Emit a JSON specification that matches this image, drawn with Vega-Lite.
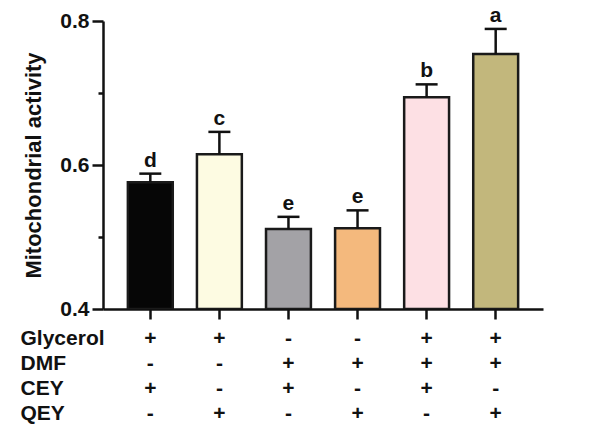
{
  "$schema": "https://vega.github.io/schema/vega-lite/v6.json",
  "background": "white",
  "padding": {"left": 20, "top": 4, "right": 10, "bottom": 10},
  "config": {
    "font": "Liberation Sans",
    "view": {"stroke": null},
    "concat": {"spacing": 0}
  },
  "data": {
    "values": [
      {"group": "Gly+CEY", "value": 0.576, "err": 0.588, "letter": "d", "Glycerol": "+", "DMF": "-", "CEY": "+", "QEY": "-"},
      {"group": "Gly+QEY", "value": 0.615, "err": 0.646, "letter": "c", "Glycerol": "+", "DMF": "-", "CEY": "-", "QEY": "+"},
      {"group": "DMF+CEY", "value": 0.511, "err": 0.528, "letter": "e", "Glycerol": "-", "DMF": "+", "CEY": "+", "QEY": "-"},
      {"group": "DMF+QEY", "value": 0.512, "err": 0.537, "letter": "e", "Glycerol": "-", "DMF": "+", "CEY": "-", "QEY": "+"},
      {"group": "Gly+DMF+CEY", "value": 0.694, "err": 0.712, "letter": "b", "Glycerol": "+", "DMF": "+", "CEY": "+", "QEY": "-"},
      {"group": "Gly+DMF+QEY", "value": 0.754, "err": 0.789, "letter": "a", "Glycerol": "+", "DMF": "+", "CEY": "-", "QEY": "+"}
    ]
  },
  "vconcat": [
    {
      "width": 440,
      "height": 288,
      "encoding": {
        "x": {
          "field": "group",
          "type": "nominal",
          "sort": ["Gly+CEY", "Gly+QEY", "DMF+CEY", "DMF+QEY", "Gly+DMF+CEY", "Gly+DMF+QEY"],
          "scale": {"type": "band", "paddingInner": 0.35, "paddingOuter": 0.36},
          "axis": {
            "title": null,
            "labels": true,
            "labelColor": "transparent",
            "labelFontSize": 1,
            "labelPadding": 0,
            "ticks": true,
            "tickBand": "center",
            "domainWidth": 2.5,
            "domainColor": "#111",
            "tickColor": "#111",
            "tickWidth": 2.5,
            "tickSize": 10,
            "tickOpacity": 1
          }
        }
      },
      "layer": [
        {
          "mark": {"type": "bar", "stroke": "#1a1a1a", "strokeWidth": 2.5, "clip": true},
          "encoding": {
            "y": {
              "field": "value",
              "type": "quantitative",
              "scale": {"domain": [0.4, 0.8], "zero": false, "nice": false},
              "axis": {
                "values": [0.4, 0.5, 0.6, 0.7, 0.8],
                "labelExpr": "datum.value == 0.5 || datum.value == 0.7 ? '' : format(datum.value, '.1f')",
                "tickSize": {"condition": {"test": "datum.value == 0.5 || datum.value == 0.7", "value": 5}, "value": 11},
                "grid": false,
                "domainWidth": 2.5,
                "domainColor": "#111",
                "tickColor": "#111",
                "tickWidth": 2.5,
                "labelFontSize": 21,
                "labelFontWeight": "bold",
                "labelColor": "#111",
                "labelPadding": 3,
                "title": "Mitochondrial activity",
                "titleFontSize": 22,
                "titleFontWeight": "bold",
                "titleColor": "#111",
                "titlePadding": 14
              }
            },
            "y2": {"datum": 0.4},
            "color": {
              "field": "group",
              "type": "nominal",
              "scale": {
                "domain": ["Gly+CEY", "Gly+QEY", "DMF+CEY", "DMF+QEY", "Gly+DMF+CEY", "Gly+DMF+QEY"],
                "range": ["#060606", "#fdfbe2", "#a3a2a6", "#f4b97d", "#fde0e4", "#c2b77c"]
              },
              "legend": null
            }
          }
        },
        {
          "mark": {"type": "rule", "strokeWidth": 2.5, "color": "#111"},
          "encoding": {
            "y": {"field": "value", "type": "quantitative"},
            "y2": {"field": "err"}
          }
        },
        {
          "mark": {"type": "tick", "thickness": 2.5, "size": 22, "color": "#111", "opacity": 1},
          "encoding": {
            "y": {"field": "err", "type": "quantitative"}
          }
        },
        {
          "mark": {"type": "text", "fontSize": 21, "fontWeight": "bold", "baseline": "alphabetic", "dy": -7, "color": "#111"},
          "encoding": {
            "y": {"field": "err", "type": "quantitative"},
            "text": {"field": "letter"}
          }
        }
      ]
    },
    {
      "width": 440,
      "height": 101,
      "transform": [{"fold": ["Glycerol", "DMF", "CEY", "QEY"], "as": ["factor", "sign"]}],
      "mark": {"type": "text", "fontSize": 21, "fontWeight": "bold", "color": "#111"},
      "encoding": {
        "x": {
          "field": "group",
          "type": "nominal",
          "sort": ["Gly+CEY", "Gly+QEY", "DMF+CEY", "DMF+QEY", "Gly+DMF+CEY", "Gly+DMF+QEY"],
          "scale": {"type": "band", "paddingInner": 0.35, "paddingOuter": 0.36},
          "axis": null
        },
        "y": {
          "field": "factor",
          "type": "nominal",
          "sort": ["Glycerol", "DMF", "CEY", "QEY"],
          "scale": {"type": "band", "paddingInner": 0, "paddingOuter": 0},
          "axis": {
            "title": null,
            "domain": false,
            "ticks": false,
            "labelAlign": "left",
            "labelPadding": 83,
            "labelFontSize": 21,
            "labelFontWeight": "bold",
            "labelColor": "#111"
          }
        },
        "text": {"field": "sign"}
      }
    }
  ]
}
